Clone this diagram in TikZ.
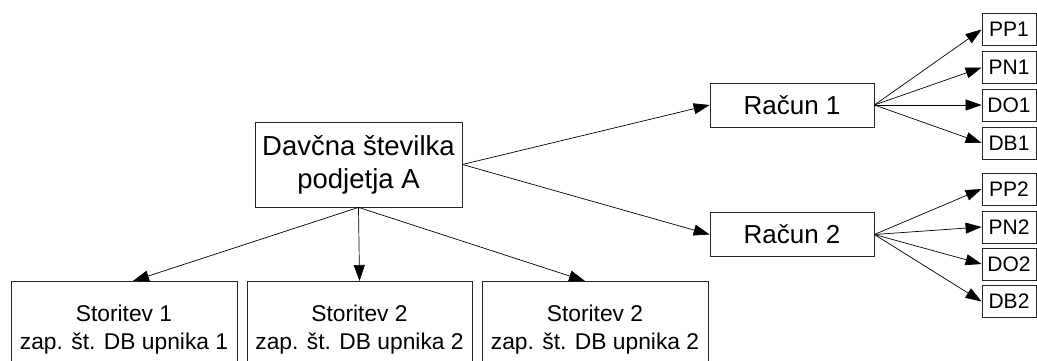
\documentclass[tikz,border=0pt]{standalone}
\usepackage{fontspec}
\setmainfont{Liberation Sans}
\usetikzlibrary{arrows.meta,calc}
\begin{document}
\begin{tikzpicture}[x=1pt,y=-1pt,
  box/.style={draw=black!85,line width=0.8pt,inner sep=0pt,align=center},
  leaf/.style={box,minimum width=54pt,minimum height=32pt,font=\fontsize{21}{24}\selectfont},
  acct/.style={box,minimum width=164pt,minimum height=44pt,font=\fontsize{26}{30}\selectfont},
  service/.style={box,anchor=north,minimum width=226pt,minimum height=97pt,font=\fontsize{22.8}{28}\selectfont},
  link/.style={line width=0.7pt,-{Triangle[length=16pt,width=11pt]}}]
\useasboundingbox (0,0) rectangle (1037,361);
% root
\node[box,minimum width=207pt,minimum height=85pt,font=\fontsize{27.5}{33}\selectfont] (root) at (358.5,164.5) {Davčna številka\\podjetja A};
% accounts
\node[acct] (r1) at (792,105) {Račun 1};
\node[acct] (r2) at (792,234.5) {Račun 2};
% leaves of account 1
\node[leaf] (pp1) at (1009,29.5) {PP1};
\node[leaf] (pn1) at (1009,67.5) {PN1};
\node[leaf] (do1) at (1009,105) {DO1};
\node[leaf] (db1) at (1009,143) {DB1};
% leaves of account 2
\node[leaf] (pp2) at (1009,189) {PP2};
\node[leaf] (pn2) at (1009,227) {PN2};
\node[leaf] (do2) at (1009,264) {DO2};
\node[leaf] (db2) at (1009,301.5) {DB2};
% services
\node[service] (s1) at (124,281) {Storitev 1\\zap. št. DB upnika 1};
\node[service,minimum width=225pt] (s2) at (359.5,281) {Storitev 2\\zap. št. DB upnika 2};
\node[service] (s3) at (595,281) {Storitev 2\\zap. št. DB upnika 2};
% connectors
\draw[link] (root.east) -- (r1.west);
\draw[link] (root.east) -- (r2.west);
\foreach \t in {pp1,pn1,do1,db1} \draw[link] (r1.east) -- (\t.west);
\foreach \t in {pp2,pn2,do2,db2} \draw[link] (r2.east) -- (\t.west);
\draw[link] (root.south) -- ($(s1.north)+(9,0)$);
\draw[link] (root.south) -- (s2.north);
\draw[link] (root.south) -- ($(s3.north)+(-10,0)$);
\end{tikzpicture}
\end{document}
